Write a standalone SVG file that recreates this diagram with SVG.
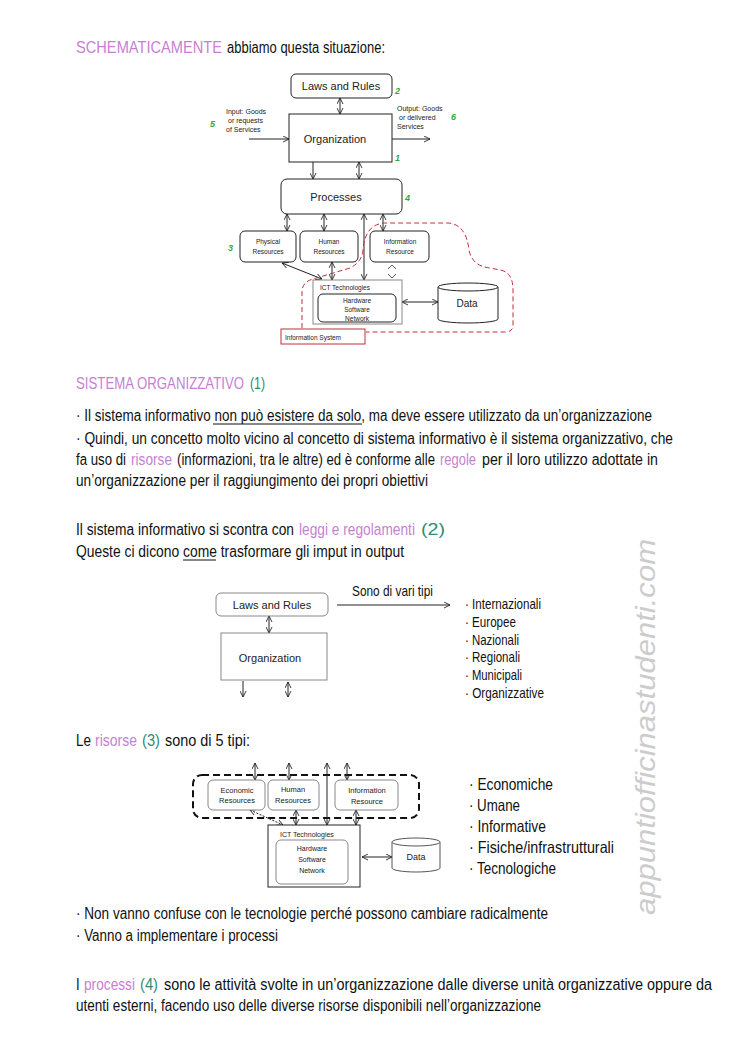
<svg xmlns="http://www.w3.org/2000/svg" width="744" height="1052" viewBox="0 0 744 1052">
<style>
.t{font-family:"Liberation Sans",Arial,sans-serif;fill:#111;font-size:13px}
.s{font-size:11.5px}
.m{font-size:13.5px}
.pk{fill:#c77fd3}
.gr{fill:#2f8c72}
.d{font-family:"Liberation Sans",Arial,sans-serif;fill:#222;text-anchor:middle}
.st{text-anchor:start}
.box{fill:#fff;stroke:#222;stroke-width:1}
.gbox{fill:#fff;stroke:#888;stroke-width:1}
.ln{stroke:#222;stroke-width:1;fill:none}
.ul{stroke:#111;stroke-width:1}
.num{font-family:"Liberation Sans",Arial,sans-serif;font-style:italic;font-weight:bold;fill:#2eaa3a;font-size:9px}
</style>
<defs>
<marker id="ah" viewBox="0 0 8 8" refX="7" refY="4" markerWidth="7" markerHeight="7" markerUnits="userSpaceOnUse" orient="auto-start-reverse">
<path d="M0,0.5 L7,4 L0,7.5" fill="none" stroke="#222" stroke-width="1"/>
</marker>
</defs>
<rect width="744" height="1052" fill="#fff"/>

<g id="text-header">
<text class="t pk" transform="translate(0,53) scale(1,1.25)" x="76" y="0" textLength="146" lengthAdjust="spacingAndGlyphs">SCHEMATICAMENTE</text>
<text class="t" transform="translate(0,53) scale(1,1.25)" x="227" y="0" textLength="158" lengthAdjust="spacingAndGlyphs">abbiamo questa situazione:</text>
</g>

<g id="text-sistema">
<text class="t pk" transform="translate(0,389) scale(1,1.25)" x="76" y="0" textLength="168" lengthAdjust="spacingAndGlyphs">SISTEMA ORGANIZZATIVO</text>
<text class="t gr" transform="translate(0,389) scale(1,1.25)" x="250" y="0" textLength="15" lengthAdjust="spacingAndGlyphs">(1)</text>
<text class="t" transform="translate(0,421) scale(1,1.25)" x="76" y="0" textLength="576" lengthAdjust="spacingAndGlyphs">· Il sistema informativo non può esistere da solo, ma deve essere utilizzato da un’organizzazione</text>
<line class="ul" x1="213" y1="424" x2="362" y2="424"/>
<text class="t" transform="translate(0,444) scale(1,1.25)" x="76" y="0" textLength="597" lengthAdjust="spacingAndGlyphs">· Quindi, un concetto molto vicino al concetto di sistema informativo è il sistema organizzativo, che</text>
<text class="t" transform="translate(0,465) scale(1,1.25)" x="76" y="0" textLength="50" lengthAdjust="spacingAndGlyphs">fa uso di</text>
<text class="t pk" transform="translate(0,465) scale(1,1.25)" x="131" y="0" textLength="41" lengthAdjust="spacingAndGlyphs">risorse</text>
<text class="t" transform="translate(0,465) scale(1,1.25)" x="177" y="0" textLength="258" lengthAdjust="spacingAndGlyphs">(informazioni, tra le altre) ed è conforme alle</text>
<text class="t pk" transform="translate(0,465) scale(1,1.25)" x="440" y="0" textLength="36" lengthAdjust="spacingAndGlyphs">regole</text>
<text class="t" transform="translate(0,465) scale(1,1.25)" x="482" y="0" textLength="176" lengthAdjust="spacingAndGlyphs">per il loro utilizzo adottate in</text>
<text class="t" transform="translate(0,486) scale(1,1.25)" x="76" y="0" textLength="352" lengthAdjust="spacingAndGlyphs">un’organizzazione per il raggiungimento dei propri obiettivi</text>
</g>

<g id="text-leggi">
<text class="t" transform="translate(0,535) scale(1,1.25)" x="76" y="0" textLength="218" lengthAdjust="spacingAndGlyphs">Il sistema informativo si scontra con</text>
<text class="t pk" transform="translate(0,535) scale(1,1.25)" x="299" y="0" textLength="116" lengthAdjust="spacingAndGlyphs">leggi e regolamenti</text>
<text class="t gr" transform="translate(0,535) scale(1,1.25)" x="421" y="0" textLength="24" lengthAdjust="spacingAndGlyphs">(2)</text>
<text class="t" transform="translate(0,557) scale(1,1.25)" x="76" y="0" textLength="328" lengthAdjust="spacingAndGlyphs">Queste ci dicono come trasformare gli imput in output</text>
<line class="ul" x1="183" y1="560" x2="216" y2="560"/>
</g>

<g id="text-risorse">
<text class="t" transform="translate(0,746) scale(1,1.25)" x="76" y="0" textLength="15" lengthAdjust="spacingAndGlyphs">Le</text>
<text class="t pk" transform="translate(0,746) scale(1,1.25)" x="95" y="0" textLength="42" lengthAdjust="spacingAndGlyphs">risorse</text>
<text class="t gr" transform="translate(0,746) scale(1,1.25)" x="142" y="0" textLength="18" lengthAdjust="spacingAndGlyphs">(3)</text>
<text class="t" transform="translate(0,746) scale(1,1.25)" x="165" y="0" textLength="85" lengthAdjust="spacingAndGlyphs">sono di 5 tipi:</text>
</g>

<g id="text-bullets">
<text class="t" transform="translate(0,919) scale(1,1.25)" x="76" y="0" textLength="472" lengthAdjust="spacingAndGlyphs">· Non vanno confuse con le tecnologie perché possono cambiare radicalmente</text>
<text class="t" transform="translate(0,941) scale(1,1.25)" x="76" y="0" textLength="202" lengthAdjust="spacingAndGlyphs">· Vanno a implementare i processi</text>
</g>

<g id="text-processi">
<text class="t" transform="translate(0,990) scale(1,1.25)" x="76" y="0">I</text>
<text class="t pk" transform="translate(0,990) scale(1,1.25)" x="84" y="0" textLength="51" lengthAdjust="spacingAndGlyphs">processi</text>
<text class="t gr" transform="translate(0,990) scale(1,1.25)" x="140" y="0" textLength="18" lengthAdjust="spacingAndGlyphs">(4)</text>
<text class="t" transform="translate(0,990) scale(1,1.25)" x="164" y="0" textLength="548" lengthAdjust="spacingAndGlyphs">sono le attività svolte in un’organizzazione dalle diverse unità organizzative oppure da</text>
<text class="t" transform="translate(0,1011) scale(1,1.25)" x="76" y="0" textLength="465" lengthAdjust="spacingAndGlyphs">utenti esterni, facendo uso delle diverse risorse disponibili nell’organizzazione</text>
</g>

<!-- watermark -->
<text x="0" y="0" transform="translate(655,915) rotate(-90)" font-family="Liberation Sans,Arial,sans-serif" font-style="italic" font-size="27" fill="#cccccc" textLength="376" lengthAdjust="spacingAndGlyphs">appuntiofficinastudenti.com</text>

<!-- ============ Diagram 1 ============ -->
<g id="d1-connectors">
<line class="ln" x1="340" y1="98" x2="340" y2="114" marker-start="url(#ah)" marker-end="url(#ah)"/>
<line class="ln" x1="249" y1="139" x2="289" y2="139" marker-end="url(#ah)"/>
<line class="ln" x1="392" y1="139" x2="430" y2="139" marker-end="url(#ah)"/>
<line class="ln" x1="313" y1="162" x2="313" y2="179" marker-end="url(#ah)"/>
<line class="ln" x1="359" y1="162" x2="359" y2="179" marker-start="url(#ah)" marker-end="url(#ah)"/>
<line class="ln" x1="287" y1="214" x2="287" y2="231" marker-start="url(#ah)" marker-end="url(#ah)"/>
<line class="ln" x1="324" y1="214" x2="324" y2="231" marker-start="url(#ah)" marker-end="url(#ah)"/>
<line class="ln" x1="364" y1="214" x2="364" y2="280" stroke="#888" marker-start="url(#ah)" marker-end="url(#ah)"/>
<line class="ln" x1="383" y1="214" x2="383" y2="231" marker-start="url(#ah)" marker-end="url(#ah)"/>
<line class="ln" x1="282" y1="263" x2="322" y2="279" marker-start="url(#ah)" marker-end="url(#ah)"/>
<line class="ln" x1="332" y1="262" x2="332" y2="280" marker-start="url(#ah)" marker-end="url(#ah)"/>
<line class="ln" x1="402" y1="302" x2="438" y2="302" marker-start="url(#ah)" marker-end="url(#ah)"/>
<path d="M388,269 L392,265 L396,269 M388,274 L392,278 L396,274" fill="none" stroke="#333" stroke-width="0.8"/>
<path d="M302,328 L302,292 Q302,282 313,279 L350,268 Q362,262 363,250 Q365,224 385,223 L448,223 Q466,224 469,250 Q472,266 490,268 L500,270 Q513,272 513,290 L513,325 Q513,332 505,332 L366,332" fill="none" stroke="#c0303a" stroke-width="1" stroke-dasharray="5,3"/>
</g>

<g id="d1-laws">
<rect class="box" x="291" y="74" width="101" height="24" rx="5"/>
<text class="d" x="341" y="90" font-size="11">Laws and Rules</text>
<text class="num" x="395" y="94">2</text>
</g>
<g id="d1-org">
<rect class="box" x="289" y="114" width="103" height="48"/>
<text class="d" x="335" y="143" font-size="11">Organization</text>
<text class="num" x="395" y="161">1</text>
</g>
<g id="d1-input">
<text class="d st" x="226" y="114" font-size="7">Input: Goods</text>
<text class="d st" x="228" y="123" font-size="7">or requests</text>
<text class="d st" x="226" y="132" font-size="7">of Services</text>
<text class="num" x="210" y="127">5</text>
</g>
<g id="d1-output">
<text class="d st" x="397" y="111" font-size="7">Output: Goods</text>
<text class="d st" x="399" y="120" font-size="7">or delivered</text>
<text class="d st" x="397" y="129" font-size="7">Services</text>
<text class="num" x="451" y="120">6</text>
</g>
<g id="d1-processes">
<rect class="box" x="281" y="179" width="121" height="35" rx="6"/>
<text class="d" x="336" y="201" font-size="11">Processes</text>
<text class="num" x="405" y="201">4</text>
</g>
<g id="d1-physical">
<rect class="box" x="240" y="231" width="56" height="31" rx="5"/>
<text class="d" x="268" y="244" font-size="6.5">Physical</text>
<text class="d" x="268" y="254" font-size="6.5">Resources</text>
<text class="num" x="228" y="251">3</text>
</g>
<g id="d1-human">
<rect class="box" x="300" y="231" width="58" height="31" rx="5"/>
<text class="d" x="329" y="244" font-size="6.5">Human</text>
<text class="d" x="329" y="254" font-size="6.5">Resources</text>
</g>
<g id="d1-info">
<rect class="box" x="370" y="231" width="59" height="31" rx="5"/>
<text class="d" x="400" y="244" font-size="6.5">Information</text>
<text class="d" x="400" y="254" font-size="6.5">Resource</text>
</g>
<g id="d1-ict">
<rect class="gbox" x="313" y="280" width="89" height="44"/>
<text class="d st" x="320" y="290" font-size="6.5">ICT Technologies</text>
<rect class="box" x="318" y="294" width="78" height="28" rx="5"/>
<text class="d" x="357" y="303" font-size="6.5">Hardware</text>
<text class="d" x="357" y="312" font-size="6.5">Software</text>
<text class="d" x="357" y="321" font-size="6.5">Network</text>
</g>
<g id="d1-data">
<path d="M438,287 L438,319 A30,4 0 0 0 498,319 L498,287" fill="#fff" stroke="#222" stroke-width="1"/>
<ellipse cx="468" cy="287" rx="30" ry="4" fill="#fff" stroke="#222" stroke-width="1"/>
<text class="d" x="467" y="307" font-size="10">Data</text>
</g>
<g id="d1-infosys">
<rect x="281" y="329" width="84" height="15" fill="#fff" stroke="#c0303a" stroke-width="1"/>
<text class="d st" x="285" y="340" font-size="6.5">Information System</text>
</g>

<!-- ============ Diagram 2 ============ -->
<g id="d2-connectors">
<line class="ln" x1="269" y1="616" x2="269" y2="633" marker-start="url(#ah)" marker-end="url(#ah)"/>
<line class="ln" x1="243" y1="681" x2="243" y2="697" marker-end="url(#ah)"/>
<line class="ln" x1="288" y1="682" x2="288" y2="697" marker-start="url(#ah)" marker-end="url(#ah)"/>
<line class="ln" x1="337" y1="605" x2="450" y2="605" stroke-width="1.3" marker-end="url(#ah)"/>
<text class="t s" transform="translate(0,596) scale(1,1.25)" x="352" y="0" textLength="81" lengthAdjust="spacingAndGlyphs">Sono di vari tipi</text>
</g>
<g id="d2-laws">
<rect class="gbox" x="216" y="593" width="112" height="23" rx="5"/>
<text class="d" x="272" y="609" font-size="11">Laws and Rules</text>
</g>
<g id="d2-org">
<rect class="gbox" x="221" y="633" width="106" height="47"/>
<text class="d" x="270" y="662" font-size="11">Organization</text>
</g>
<g id="d2-list">
<text class="t s" transform="translate(0,609) scale(1,1.25)" x="465" y="0" textLength="76" lengthAdjust="spacingAndGlyphs">· Internazionali</text>
<text class="t s" transform="translate(0,627) scale(1,1.25)" x="465" y="0" textLength="51" lengthAdjust="spacingAndGlyphs">· Europee</text>
<text class="t s" transform="translate(0,645) scale(1,1.25)" x="465" y="0" textLength="54" lengthAdjust="spacingAndGlyphs">· Nazionali</text>
<text class="t s" transform="translate(0,662) scale(1,1.25)" x="465" y="0" textLength="55" lengthAdjust="spacingAndGlyphs">· Regionali</text>
<text class="t s" transform="translate(0,680) scale(1,1.25)" x="465" y="0" textLength="57" lengthAdjust="spacingAndGlyphs">· Municipali</text>
<text class="t s" transform="translate(0,698) scale(1,1.25)" x="465" y="0" textLength="79" lengthAdjust="spacingAndGlyphs">· Organizzative</text>
</g>

<!-- ============ Diagram 3 ============ -->
<g id="d3-group">
<rect x="193" y="775" width="226" height="43" rx="9" fill="none" stroke="#111" stroke-width="2" stroke-dasharray="7,4"/>
</g>
<g id="d3-connectors">
<line class="ln" x1="255" y1="763" x2="255" y2="780" marker-start="url(#ah)" marker-end="url(#ah)"/>
<line class="ln" x1="289" y1="763" x2="289" y2="780" marker-start="url(#ah)" marker-end="url(#ah)"/>
<line class="ln" x1="327" y1="763" x2="327" y2="825" stroke-width="1.3" marker-start="url(#ah)" marker-end="url(#ah)"/>
<line class="ln" x1="347" y1="763" x2="347" y2="780" marker-start="url(#ah)" marker-end="url(#ah)"/>
<line class="ln" x1="250" y1="810" x2="283" y2="825" stroke-dasharray="2,1.5" marker-start="url(#ah)" marker-end="url(#ah)"/>
<line class="ln" x1="296" y1="810" x2="296" y2="825" marker-start="url(#ah)" marker-end="url(#ah)"/>
<line class="ln" x1="356" y1="810" x2="356" y2="825" marker-start="url(#ah)" marker-end="url(#ah)"/>
<line class="ln" x1="362" y1="857" x2="392" y2="857" marker-start="url(#ah)" marker-end="url(#ah)"/>
</g>
<g id="d3-economic">
<rect class="gbox" x="208" y="780" width="57" height="30" rx="5"/>
<text class="d" x="237" y="793" font-size="7.5">Economic</text>
<text class="d" x="237" y="803" font-size="7.5">Resources</text>
</g>
<g id="d3-human">
<rect class="gbox" x="268" y="780" width="51" height="30" rx="5"/>
<text class="d" x="293" y="792" font-size="7.5">Human</text>
<text class="d" x="293" y="803" font-size="7.5">Resources</text>
</g>
<g id="d3-info">
<rect class="gbox" x="335" y="780" width="63" height="30" rx="5"/>
<text class="d" x="367" y="793" font-size="7.5">Information</text>
<text class="d" x="367" y="804" font-size="7.5">Resource</text>
</g>
<g id="d3-ict">
<rect class="box" x="268" y="825" width="92" height="62"/>
<text class="d st" x="280" y="837" font-size="7">ICT Technologies</text>
<rect class="gbox" x="276" y="840" width="72" height="44" rx="5"/>
<text class="d" x="312" y="851" font-size="7">Hardware</text>
<text class="d" x="312" y="862" font-size="7">Software</text>
<text class="d" x="312" y="873" font-size="7">Network</text>
</g>
<g id="d3-data">
<path d="M392,842 L392,868 A24,4 0 0 0 440,868 L440,842" fill="#fff" stroke="#555" stroke-width="1"/>
<ellipse cx="416" cy="842" rx="24" ry="4" fill="#fff" stroke="#555" stroke-width="1"/>
<text class="d" x="416" y="860" font-size="9">Data</text>
</g>
<g id="d3-list">
<text class="t m" transform="translate(0,790) scale(1,1.25)" x="469" y="0" textLength="84" lengthAdjust="spacingAndGlyphs">· Economiche</text>
<text class="t m" transform="translate(0,811) scale(1,1.25)" x="469" y="0" textLength="51" lengthAdjust="spacingAndGlyphs">· Umane</text>
<text class="t m" transform="translate(0,832) scale(1,1.25)" x="469" y="0" textLength="77" lengthAdjust="spacingAndGlyphs">· Informative</text>
<text class="t m" transform="translate(0,853) scale(1,1.25)" x="469" y="0" textLength="145" lengthAdjust="spacingAndGlyphs">· Fisiche/infrastrutturali</text>
<text class="t m" transform="translate(0,874) scale(1,1.25)" x="469" y="0" textLength="87" lengthAdjust="spacingAndGlyphs">· Tecnologiche</text>
</g>
</svg>
